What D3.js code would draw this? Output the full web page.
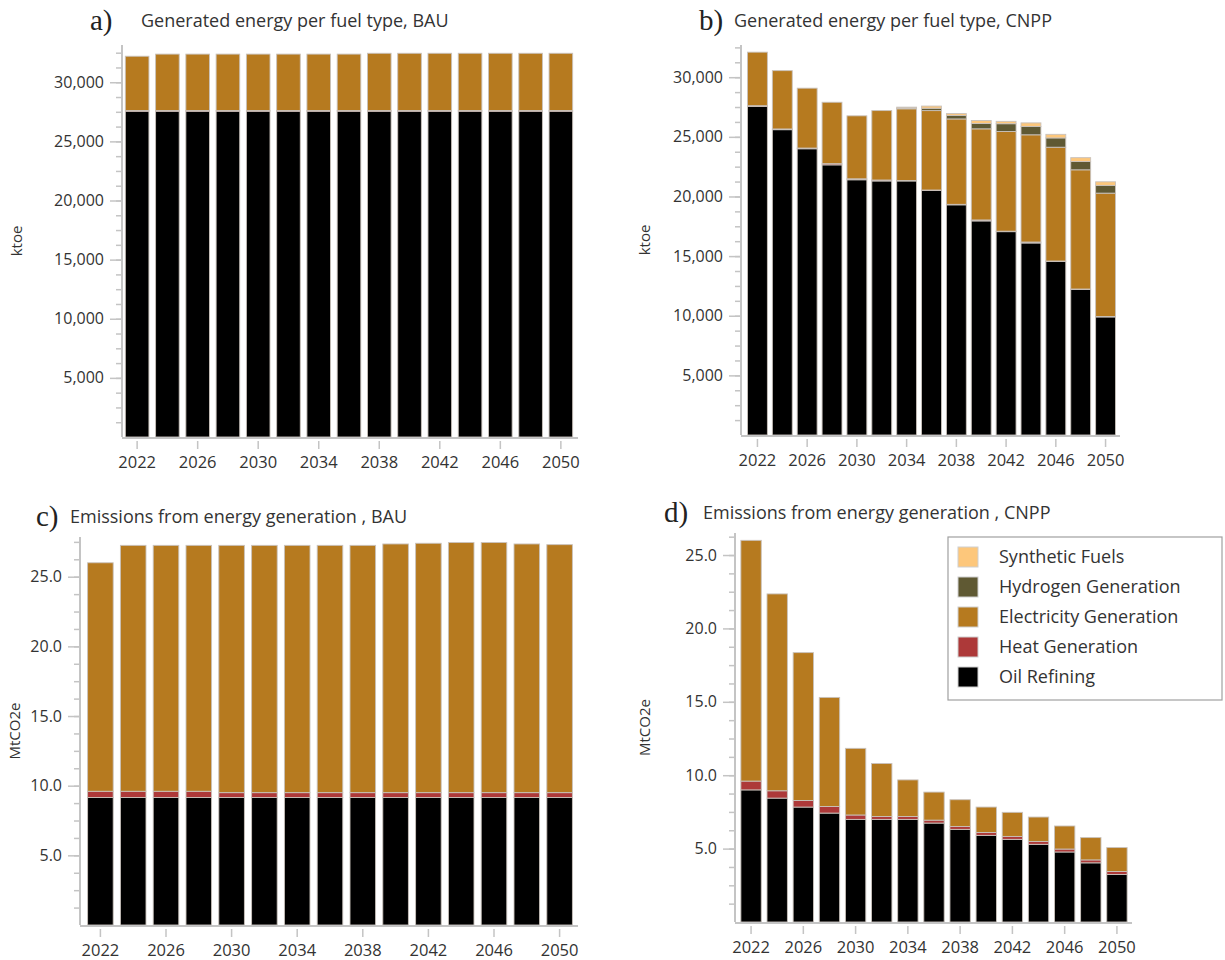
<!DOCTYPE html>
<html>
<head>
<meta charset="utf-8">
<script src="https://cdn.jsdelivr.net/npm/d3@7/dist/d3.min.js"></script>
<style>
  body { margin: 0; background: #fff; }
  svg text { font-family: "Open Sans", "Noto Sans", sans-serif; fill: #333; }
  .axis path, .axis line { stroke: #c4c4c4; }
  .panel-letter { font-family: "Liberation Serif", "DejaVu Serif", serif; fill: #222; }
</style>
</head>
<body>
<svg id="chart" width="1225" height="960"></svg>
<script>
// categories
var years = [2022, 2024, 2026, 2028, 2030, 2032, 2034, 2036, 2038, 2040, 2042, 2044, 2046, 2048, 2050];
var yearLabels = [2022, 2026, 2030, 2034, 2038, 2042, 2046, 2050];
var fuels = ['Oil Refining', 'Heat Generation', 'Electricity Generation', 'Hydrogen Generation', 'Synthetic Fuels'];
var fuelColors = ['#000000', '#ad3939', '#b67a1f', '#5f5933', '#fdc77b'];

// a) generated energy, BAU (ktoe)
var bauEnergyOil = [27550, 27550, 27550, 27550, 27550, 27550, 27550, 27550, 27550, 27550, 27550, 27550, 27550, 27550, 27550];
var bauEnergyHeat = [60, 60, 60, 60, 60, 60, 60, 60, 60, 60, 60, 60, 60, 60, 60];
var bauEnergyElec = [4590, 4770, 4770, 4770, 4770, 4770, 4770, 4770, 4840, 4840, 4840, 4840, 4840, 4840, 4840];
var bauEnergyHydrogen = [0, 0, 0, 0, 0, 0, 0, 0, 0, 0, 0, 0, 0, 0, 0];
var bauEnergySynthetic = [0, 0, 0, 0, 0, 0, 0, 0, 0, 0, 0, 0, 0, 0, 0];

// b) generated energy, CNPP (ktoe)
var cnppEnergyOil = [27550, 25600, 24000, 22650, 21400, 21300, 21300, 20500, 19300, 17950, 17050, 16100, 14550, 12200, 9900];
var cnppEnergyHeat = [60, 60, 60, 100, 80, 80, 40, 40, 40, 80, 40, 80, 40, 40, 40];
var cnppEnergyElec = [4490, 4890, 5020, 5150, 5280, 5820, 6010, 6660, 7160, 7640, 8360, 8990, 9540, 9995, 10340];
var cnppEnergyHydrogen = [0, 0, 0, 0, 0, 0, 60, 200, 300, 450, 650, 700, 780, 700, 650];
var cnppEnergySynthetic = [0, 0, 0, 0, 0, 0, 80, 180, 150, 250, 200, 300, 300, 320, 300];

// c) emissions, BAU (MtCO2e)
var bauEmisOil = [9.15, 9.15, 9.15, 9.15, 9.15, 9.15, 9.15, 9.15, 9.15, 9.15, 9.15, 9.15, 9.15, 9.15, 9.15];
var bauEmisHeat = [0.45, 0.45, 0.45, 0.45, 0.35, 0.35, 0.35, 0.35, 0.35, 0.35, 0.35, 0.35, 0.35, 0.35, 0.35];
var bauEmisElec = [16.4, 17.65, 17.65, 17.65, 17.75, 17.75, 17.75, 17.75, 17.75, 17.85, 17.9, 17.95, 17.95, 17.85, 17.8];
var bauEmisHydrogen = [0, 0, 0, 0, 0, 0, 0, 0, 0, 0, 0, 0, 0, 0, 0];
var bauEmisSynthetic = [0, 0, 0, 0, 0, 0, 0, 0, 0, 0, 0, 0, 0, 0, 0];

// d) emissions, CNPP (MtCO2e)
var cnppEmisOil = [9.0, 8.44, 7.83, 7.42, 6.99, 6.99, 6.99, 6.74, 6.31, 5.9, 5.63, 5.29, 4.77, 4.03, 3.24];
var cnppEmisHeat = [0.6, 0.5, 0.45, 0.45, 0.3, 0.2, 0.2, 0.2, 0.2, 0.2, 0.2, 0.2, 0.2, 0.2, 0.2];
var cnppEmisElec = [16.4, 13.41, 10.07, 7.43, 4.54, 3.61, 2.49, 1.91, 1.82, 1.73, 1.64, 1.66, 1.57, 1.52, 1.63];
var cnppEmisHydrogen = [0, 0, 0, 0, 0, 0, 0, 0, 0, 0, 0, 0, 0, 0, 0];
var cnppEmisSynthetic = [0, 0, 0, 0, 0, 0, 0, 0, 0, 0, 0, 0, 0, 0, 0];

var yTicksEnergy = [5000, 10000, 15000, 20000, 25000, 30000];
var yTicksEmis = [5, 10, 15, 20, 25];

var svg = d3.select('#chart');

function rows(series) {
  return years.map(function(yr, i) {
    var r = { year: yr };
    fuels.forEach(function(f, k) { r[f] = series[k][i]; });
    return r;
  });
}

function drawPanel(p) {
  var data = rows(p.series);
  var stack = d3.stack().keys(fuels)(data);

  var x = d3.scaleBand().domain(years).range([p.bandLeft, p.bandRight]).paddingInner(p.pad).paddingOuter(p.pad / 2);
  var y = d3.scaleLinear().domain([0, p.max]).range([p.bottom, p.top]);

  var g = svg.append('g');

  // bars
  g.selectAll('g.layer')
    .data(stack)
    .enter().append('g')
    .attr('class', 'layer')
    .attr('fill', function(d, i) { return fuelColors[i]; })
    .selectAll('rect')
    .data(function(d) { return d.filter(function(s) { return s[1] - s[0] > 0; }); })
    .enter().append('rect')
    .attr('x', function(d) { return x(d.data.year); })
    .attr('width', x.bandwidth())
    .attr('y', function(d) { return y(d[1]); })
    .attr('height', function(d) { return y(d[0]) - y(d[1]); })
    .attr('stroke', '#c9c2bc')
    .attr('stroke-width', 0.9);

  // y axis: minor ticks
  var minor = d3.range(p.minorStep, p.max, p.minorStep);
  g.append('g')
    .attr('class', 'axis')
    .attr('transform', 'translate(' + p.axisX + ',0)')
    .call(d3.axisLeft(y).tickValues(minor).tickSize(6).tickFormat(''))
    .call(function(s) { s.select('.domain').remove(); })
    .selectAll('line').attr('stroke-width', 1.5);

  var yAxis = g.append('g')
    .attr('class', 'axis')
    .attr('transform', 'translate(' + p.axisX + ',0)')
    .call(d3.axisLeft(y).tickValues(p.ticks).tickSize(12).tickPadding(6).tickFormat(p.fmt).tickSizeOuter(0));
  yAxis.select('.domain').attr('stroke-width', 2).attr('d', 'M0,' + p.bottom + 'V' + p.top);
  yAxis.selectAll('line').attr('stroke-width', 1.5);
  yAxis.selectAll('text').attr('font-size', 16).attr('fill', '#333');

  // x axis
  var xAxis = g.append('g')
    .attr('class', 'axis')
    .attr('transform', 'translate(0,' + p.bottom + ')')
    .call(d3.axisBottom(x).tickValues(yearLabels).tickSize(12).tickPadding(7).tickSizeOuter(0));
  xAxis.select('.domain').attr('stroke-width', 2).attr('d', 'M' + p.axisX + ',1H' + p.axisRight);
  xAxis.selectAll('line').attr('stroke-width', 1.5).attr('y1', 4);
  xAxis.selectAll('text').attr('font-size', 16.5).attr('fill', '#333');

  // y label
  g.append('text')
    .attr('transform', 'translate(' + p.labelX + ',' + ((p.top + p.bottom) / 2) + ') rotate(-90)')
    .attr('text-anchor', 'middle')
    .attr('font-size', 15)
    .text(p.unit);

  // title
  g.append('text')
    .attr('class', 'panel-letter')
    .attr('x', p.letterX).attr('y', p.titleY + 3)
    .attr('font-size', 29)
    .text(p.letter);
  g.append('text')
    .attr('x', p.titleX).attr('y', p.titleY)
    .attr('font-size', 18)
    .attr('fill', '#222')
    .text(p.title);
}

var fmtEnergy = d3.format(',');
var fmtEmis = d3.format('.1f');

drawPanel({
  series: [bauEnergyOil, bauEnergyHeat, bauEnergyElec, bauEnergyHydrogen, bauEnergySynthetic],
  letter: 'a)', title: 'Generated energy per fuel type, BAU', unit: 'ktoe',
  axisX: 122, axisRight: 578, bandLeft: 122, bandRight: 576, pad: 0.22,
  top: 45, bottom: 437, max: 33150, minorStep: 1250, ticks: yTicksEnergy, fmt: fmtEnergy,
  labelX: 22, letterX: 90, titleX: 141, titleY: 27
});

drawPanel({
  series: [cnppEnergyOil, cnppEnergyHeat, cnppEnergyElec, cnppEnergyHydrogen, cnppEnergySynthetic],
  letter: 'b)', title: 'Generated energy per fuel type, CNPP', unit: 'ktoe',
  axisX: 741, axisRight: 1120, bandLeft: 745, bandRight: 1118, pad: 0.2,
  top: 45, bottom: 435, max: 32700, minorStep: 1250, ticks: yTicksEnergy, fmt: fmtEnergy,
  labelX: 650, letterX: 699, titleX: 734, titleY: 27
});

drawPanel({
  series: [bauEmisOil, bauEmisHeat, bauEmisElec, bauEmisHydrogen, bauEmisSynthetic],
  letter: 'c)', title: 'Emissions from energy generation , BAU', unit: 'MtCO2e',
  axisX: 80, axisRight: 578, bandLeft: 84, bandRight: 576, pad: 0.22,
  top: 537, bottom: 925, max: 27.85, minorStep: 1.25, ticks: yTicksEmis, fmt: fmtEmis,
  labelX: 20, letterX: 36, titleX: 70, titleY: 523
});

drawPanel({
  series: [cnppEmisOil, cnppEmisHeat, cnppEmisElec, cnppEmisHydrogen, cnppEmisSynthetic],
  letter: 'd)', title: 'Emissions from energy generation , CNPP', unit: 'MtCO2e',
  axisX: 735, axisRight: 1132, bandLeft: 738, bandRight: 1130, pad: 0.22,
  top: 533, bottom: 922, max: 26.5, minorStep: 1.25, ticks: yTicksEmis, fmt: fmtEmis,
  labelX: 650, letterX: 664, titleX: 703, titleY: 519
});

// legend (panel d), listed top to bottom in reverse stack order
var legend = svg.append('g').attr('transform', 'translate(948,537)');
legend.append('rect')
  .attr('width', 274).attr('height', 163)
  .attr('fill', '#fff').attr('stroke', '#a0a0a0').attr('stroke-width', 1.2);
var legendItems = fuels.slice().reverse();
var li = legend.selectAll('g.item')
  .data(legendItems)
  .enter().append('g')
  .attr('class', 'item')
  .attr('transform', function(d, i) { return 'translate(10,' + (10 + i * 30) + ')'; });
li.append('rect')
  .attr('width', 20).attr('height', 20)
  .attr('fill', function(d) { return fuelColors[fuels.indexOf(d)]; })
  .attr('stroke', '#cfcfcf');
li.append('text')
  .attr('x', 41).attr('y', 16)
  .attr('font-size', 18)
  .attr('fill', '#444')
  .text(function(d) { return d; });
</script>
</body>
</html>
